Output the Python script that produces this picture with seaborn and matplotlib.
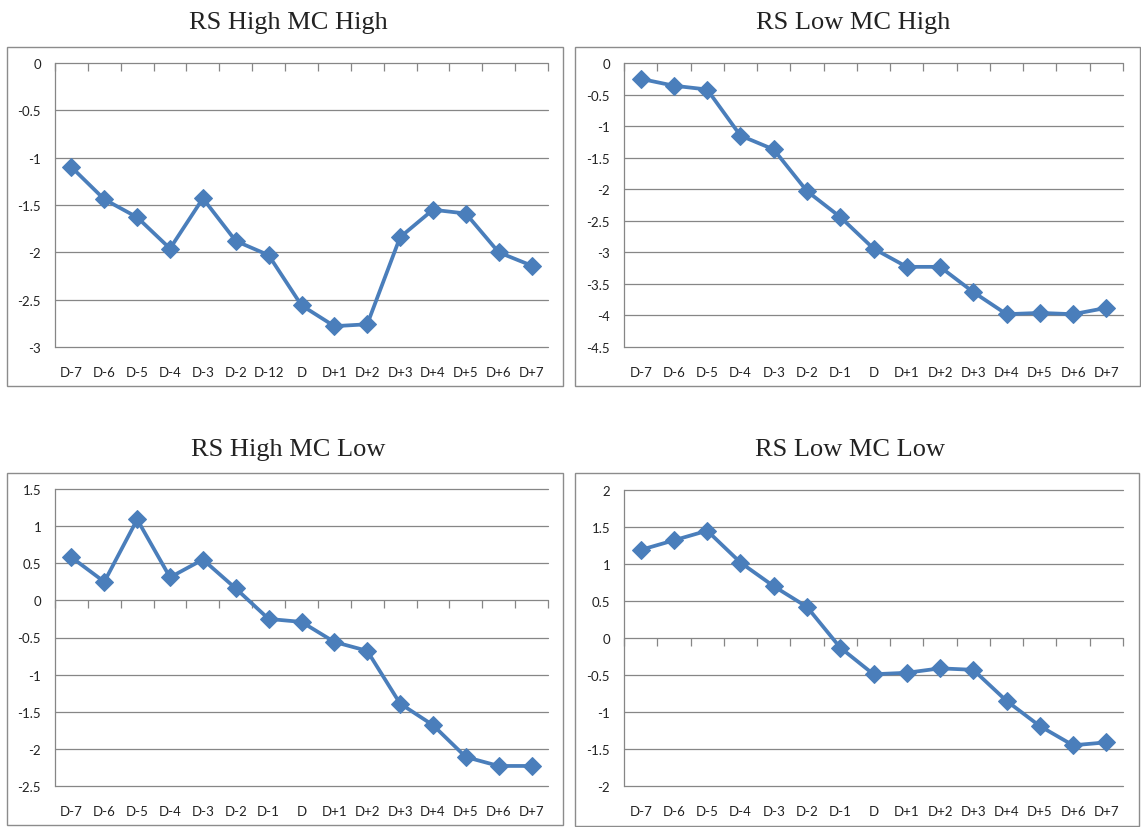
import numpy as np
import pandas as pd
import matplotlib.pyplot as plt
import seaborn as sns
from matplotlib.patches import Rectangle
from matplotlib.markers import TICKDOWN

# category labels (the first panel really reads "D-12" in the source)
days_hh = ["D-7", "D-6", "D-5", "D-4", "D-3", "D-2", "D-12", "D",
           "D+1", "D+2", "D+3", "D+4", "D+5", "D+6", "D+7"]
days = ["D-7", "D-6", "D-5", "D-4", "D-3", "D-2", "D-1", "D",
        "D+1", "D+2", "D+3", "D+4", "D+5", "D+6", "D+7"]

rs_high_mc_high = [-1.10, -1.44, -1.63, -1.96, -1.43, -1.88, -2.03, -2.56,
                   -2.78, -2.76, -1.84, -1.55, -1.59, -2.00, -2.14]
rs_low_mc_high = [-0.25, -0.36, -0.42, -1.15, -1.37, -2.03, -2.44, -2.94,
                  -3.23, -3.23, -3.63, -3.98, -3.96, -3.98, -3.88]
rs_high_mc_low = [0.58, 0.25, 1.09, 0.31, 0.55, 0.16, -0.25, -0.29,
                  -0.56, -0.68, -1.39, -1.68, -2.11, -2.23, -2.23]
rs_low_mc_low = [1.19, 1.32, 1.45, 1.02, 0.70, 0.42, -0.13, -0.49,
                 -0.47, -0.41, -0.43, -0.85, -1.19, -1.45, -1.41]

titles = ["RS High MC High", "RS Low MC High", "RS High MC Low", "RS Low MC Low"]
y_ranges = [(-3, 0), (-4.5, 0), (-2.5, 1.5), (-2, 2)]

sns.set_style("white")
plt.rcParams["font.family"] = ["Lato", "DejaVu Sans"]

W, H = 1141, 828
fig = plt.figure(figsize=(W / 100, H / 100), dpi=100)

line_color = "#4A7EBB"
grid_color = "#868686"

# pixel layout: axes rect, frame rect, title centre
layout = [
    ((55, 64, 548, 348), (7, 48, 563, 387), (288, 29)),
    ((624, 64, 1123, 348), (575, 48, 1140, 387), (853, 29)),
    ((55, 490, 548, 787), (7, 474, 563, 826), (288, 456)),
    ((624, 491, 1123, 787), (575, 474, 1139, 827), (850, 456)),
]

panels = [
    (days_hh, rs_high_mc_high),
    (days, rs_low_mc_high),
    (days, rs_high_mc_low),
    (days, rs_low_mc_low),
]

for (cats, vals), title, (ymin, ymax), (arect, frect, tpos) in zip(
        panels, titles, y_ranges, layout):
    x0, y0, x1, y1 = arect
    ax = fig.add_axes([x0 / W, 1 - y1 / H, (x1 - x0) / W, (y1 - y0) / H])

    # outer chart frame like an Excel chart area
    fx0, fy0, fx1, fy1 = frect
    fig.add_artist(Rectangle((fx0 / W, 1 - fy1 / H), (fx1 - fx0) / W, (fy1 - fy0) / H,
                             transform=fig.transFigure, fill=False,
                             edgecolor="#8c8c8c", linewidth=1.0))

    df = pd.DataFrame({"day": cats, "value": vals})
    sns.lineplot(data=df, x="day", y="value", ax=ax, color=line_color,
                 linewidth=2.7, marker="D", markersize=9,
                 markeredgecolor=line_color, sort=False)

    n = len(cats)
    ax.set_xlim(-0.5, n - 0.5)
    ax.set_ylim(ymin, ymax)
    yt = np.arange(ymin, ymax + 0.01, 0.5)
    ax.set_yticks(yt)
    ax.set_yticklabels([f"{v:g}" for v in yt])
    ax.set_xticks(range(n))
    ax.set_xticklabels(cats)
    ax.set_xlabel("")
    ax.set_ylabel("")

    ax.grid(axis="y", color=grid_color, linewidth=0.9)
    ax.set_axisbelow(True)
    for gl in ax.get_ygridlines():
        gl.set_clip_on(False)
    for s in ["top", "right", "bottom"]:
        ax.spines[s].set_visible(False)
    ax.spines["left"].set_color(grid_color)
    ax.spines["left"].set_linewidth(0.9)

    ax.tick_params(axis="y", length=5, width=0.9, color=grid_color,
                   direction="out", pad=5, labelsize=9.5, labelcolor="#222222")
    ax.tick_params(axis="x", length=0, pad=14, labelsize=9.5, labelcolor="#222222")

    # category boundary tick marks on the zero line
    bounds = np.arange(n + 1) - 0.5
    ax.plot(bounds, np.zeros_like(bounds), ls="none", marker=TICKDOWN,
            markersize=6, markeredgewidth=0.9, color=grid_color, clip_on=False,
            zorder=1)

    fig.text(tpos[0] / W, 1 - tpos[1] / H, title, ha="center", va="baseline",
             fontsize=19, family=["Liberation Serif", "DejaVu Serif"],
             color="#222222")

fig.savefig("out.png", dpi=100)
